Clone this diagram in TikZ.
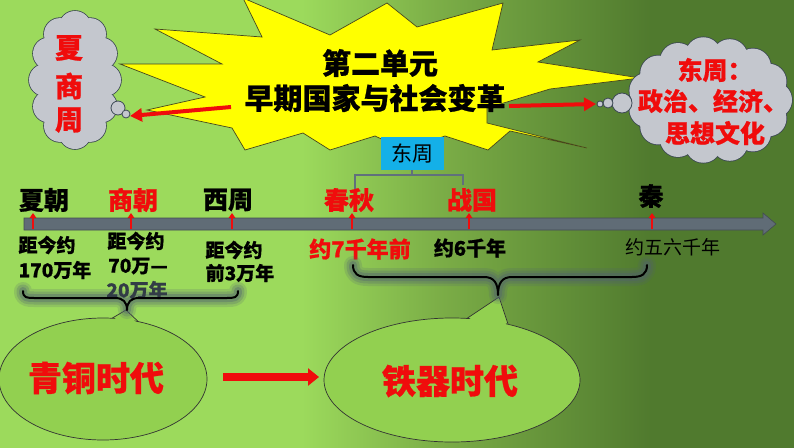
\documentclass[tikz,border=0pt]{standalone}
\usepackage{fontspec}
\newfontfamily\cjk{Noto Sans CJK SC}[BoldFeatures={FakeBold=0.8}]
\usetikzlibrary{arrows.meta}
\definecolor{bgL}{RGB}{156,218,92}
\definecolor{bgM}{RGB}{122,172,70}
\definecolor{bgR}{RGB}{80,122,46}
\definecolor{starY}{RGB}{255,255,0}
\definecolor{starE}{RGB}{70,70,30}
\definecolor{cloudG}{RGB}{196,199,206}
\definecolor{cloudE}{RGB}{60,72,84}
\definecolor{tred}{RGB}{240,12,12}
\definecolor{barG}{RGB}{96,108,118}
\definecolor{bub}{RGB}{146,208,80}
\definecolor{boxC}{RGB}{20,176,232}
\definecolor{brkG}{RGB}{96,112,124}
\definecolor{shad}{RGB}{80,96,112}
\definecolor{dgray}{RGB}{50,60,70}
\pgfdeclarehorizontalshading{bgshade}{100bp}{color(0bp)=(bgL); color(25bp)=(bgL); color(44bp)=(bgL); color(53bp)=(bgM); color(66bp)=(bgR); color(100bp)=(bgR)}
\begin{document}
\begin{tikzpicture}[x=1pt,y=-1pt,
  title/.style={font=\cjk\bfseries\fontsize{29}{29}\selectfont, inner sep=0pt, text=black},
  cloudtxt/.style={font=\cjk\bfseries\fontsize{25}{25}\selectfont, inner sep=0pt, text=tred},
  era/.style={font=\cjk\bfseries\fontsize{25}{25}\selectfont, inner sep=0pt},
  sub/.style={font=\cjk\bfseries\fontsize{19}{19}\selectfont, inner sep=0pt, text=black},
  age/.style={font=\cjk\bfseries\fontsize{34}{34}\selectfont, inner sep=0pt, text=tred},
  tick/.style={line width=2.4pt, tred, -{Triangle[width=6.5pt,length=5pt]}},
  redarrow/.style={line width=4pt, tred, -{Triangle[width=13pt,length=12pt]}},
  bigarrow/.style={line width=8pt, tred, -{Triangle[width=17pt,length=11pt]}},
  bracestroke/.style={line width=2pt, black, line cap=round, line join=round},
  braceshadow/.style={line cap=round, line join=round, shad},
  bubble/.style={fill=bub, draw=black!80, line width=0.7pt},
  puff/.style={fill=cloudG, draw=cloudE, line width=0.8pt}
]
\useasboundingbox (0,0) rectangle (794,447);
\fill[shading=bgshade] (0,0) rectangle (794,447);

% starburst
\filldraw[fill=starY, draw=starE, line width=0.7pt]
  (243,-2) -- (262,37) -- (155,29) -- (222,64) -- (120,64) -- (205,97) -- (147,110)
  -- (232,128) -- (245,150) -- (303,133) -- (330,150) -- (375,136) -- (405,150)
  -- (445,136) -- (488,150) -- (510,131) -- (587,148) -- (487,123) -- (487,108)
  -- (550,89) -- (640,78) -- (538,62) -- (580,40) -- (492,50) -- (503,3)
  -- (417,27) -- (387,3) -- (330,35) -- cycle;

% left cloud
\foreach \a in {0,30,...,330}
  \fill[cloudE] ({75+30*cos(\a)},{80+53*sin(\a)}) circle[radius=16.8];
\foreach \a in {0,30,...,330}
  \fill[cloudG] ({75+30*cos(\a)},{80+53*sin(\a)}) circle[radius=16];
\fill[cloudG] (75,80) ellipse[x radius=31, y radius=54];
\filldraw[puff] (118,108) circle[radius=7];
\filldraw[puff] (126,114) circle[radius=4];
\coordinate (lcloud) at (130,116);

% right cloud
\foreach \a in {0,24,...,336}
  \fill[cloudE] ({710+64*cos(\a)},{100+45*sin(\a)}) circle[radius=18.8];
\foreach \a in {0,24,...,336}
  \fill[cloudG] ({710+64*cos(\a)},{100+45*sin(\a)}) circle[radius=18];
\fill[cloudG] (710,100) ellipse[x radius=65, y radius=46];
\filldraw[puff] (622,103) circle[radius=10];
\filldraw[puff] (608,103) circle[radius=5];
\filldraw[puff] (600,104) circle[radius=3];
\coordinate (rcloud) at (596,104);

% titles
\node[title] (t1) at (380,63) {第二单元};
\node[title] (t2) at (375,98) {早期国家与社会变革};
\coordinate (tl) at (231,107);
\coordinate (tr) at (509,106);
\draw[redarrow] (tl) -- (lcloud);
\draw[redarrow] (tr) -- (rcloud);

% cloud texts
\node[cloudtxt, font=\cjk\bfseries\fontsize{28}{28}\selectfont] (xia) at (69,48) {夏};
\node[cloudtxt, font=\cjk\bfseries\fontsize{28}{28}\selectfont] (shang) at (69,86) {商};
\node[cloudtxt, font=\cjk\bfseries\fontsize{28}{28}\selectfont] (zhou) at (69,120) {周};
\node[cloudtxt] (dz) at (715,70) {东周：};
\node[cloudtxt] (zz) at (713,101) {政治、经济、};
\node[cloudtxt] (sx) at (715,133) {思想文化};

% 东周 box and bracket
\node[fill=boxC, minimum width=63pt, minimum height=33pt, inner sep=0pt,
      font=\cjk\fontsize{21}{21}\selectfont] (dzbox) at (412,153.5) {东周};
\draw[brkG, line width=2pt] (dzbox.south) -- (412,175);
\draw[brkG, line width=2pt] (355,190) -- (355,175) -- (463,175) -- (463,185);

% timeline bar
\filldraw[fill=barG, draw=barG!70!black, line width=0.6pt]
  (24,218) -- (763,218) -- (763,213) -- (776,224) -- (763,235) -- (763,230) -- (24,230) -- cycle;

% eras
\node[era, text=black] (xc) at (44,200) {夏朝};
\node[era, text=tred] (sc) at (133,200) {商朝};
\node[era, text=black] (xz) at (228,200) {西周};
\node[era, text=tred] (cq) at (349,200) {春秋};
\node[era, text=tred] (zg) at (472,200) {战国};
\node[era, text=black] (qin) at (651,196) {秦};
\foreach \x in {33,131,232,352,469,652}
  \draw[tick] (\x,229) -- (\x,213);

% sub labels
\node[sub] (a1) at (47,245) {距今约};
\node[sub] (a2) at (55,270) {170万年};
\node[sub] (b1) at (136,241) {距今约};
\node[sub] (b2) at (138,266) {70万—};
\node[sub] (c1) at (234,250) {距今约};
\node[sub] (c2) at (240,273) {前3万年};
\node[sub, text=tred, font=\cjk\bfseries\fontsize{22}{22}\selectfont] (d1) at (360,249) {约7千年前};
\node[sub, font=\cjk\bfseries\fontsize{20}{20}\selectfont] (e1) at (470,248) {约6千年};
\node[sub, font=\cjk\fontsize{19}{19}\selectfont] (f1) at (673,247) {约五六千年};

% bubbles
\filldraw[bubble] (104,323) -- (126,310) -- (144,327) -- cycle;
\filldraw[bubble] (103,379) ellipse[x radius=104, y radius=61];
\fill[bub] (106,324) -- (126,312) -- (142,328) -- cycle;
\filldraw[bubble] (463,321) -- (499,297) -- (509,327) -- cycle;
\filldraw[bubble] (452,380) ellipse[x radius=128, y radius=62];
\fill[bub] (465,322) -- (499,299) -- (507,328) -- cycle;

\node[age] (qt) at (96,378) {青铜时代};
\node[age] (tq) at (450,381) {铁器时代};
\coordinate (ma) at (223,377);
\coordinate (mb) at (319,377);
\draw[bigarrow] (ma) -- (mb);

% braces with shadow
\foreach \w/\o in {18/0.18, 13/0.25, 8/0.35} {
  \draw[braceshadow, line width=\w pt, opacity=\o]
    (23,291) .. controls (23,298) and (27,298) .. (35,298) -- (115,298)
    .. controls (123,298) and (127,302) .. (127,310)
    .. controls (127,302) and (131,298) .. (139,298) -- (226,298)
    .. controls (234,298) and (238,298) .. (238,291);
  \draw[braceshadow, line width=\w pt, opacity=\o]
    (353,265) .. controls (353,274) and (358,277) .. (368,277) -- (484,277)
    .. controls (494,277) and (498,283) .. (498,295)
    .. controls (498,283) and (502,277) .. (512,277) -- (632,277)
    .. controls (642,277) and (647,274) .. (647,265);
}
\node[sub, text=dgray] (b3) at (137,290) {20万年};
\draw[bracestroke]
    (23,291) .. controls (23,298) and (27,298) .. (35,298) -- (115,298)
    .. controls (123,298) and (127,302) .. (127,310)
    .. controls (127,302) and (131,298) .. (139,298) -- (226,298)
    .. controls (234,298) and (238,298) .. (238,291);
\draw[bracestroke]
    (353,265) .. controls (353,274) and (358,277) .. (368,277) -- (484,277)
    .. controls (494,277) and (498,283) .. (498,295)
    .. controls (498,283) and (502,277) .. (512,277) -- (632,277)
    .. controls (642,277) and (647,274) .. (647,265);
\end{tikzpicture}
\end{document}
